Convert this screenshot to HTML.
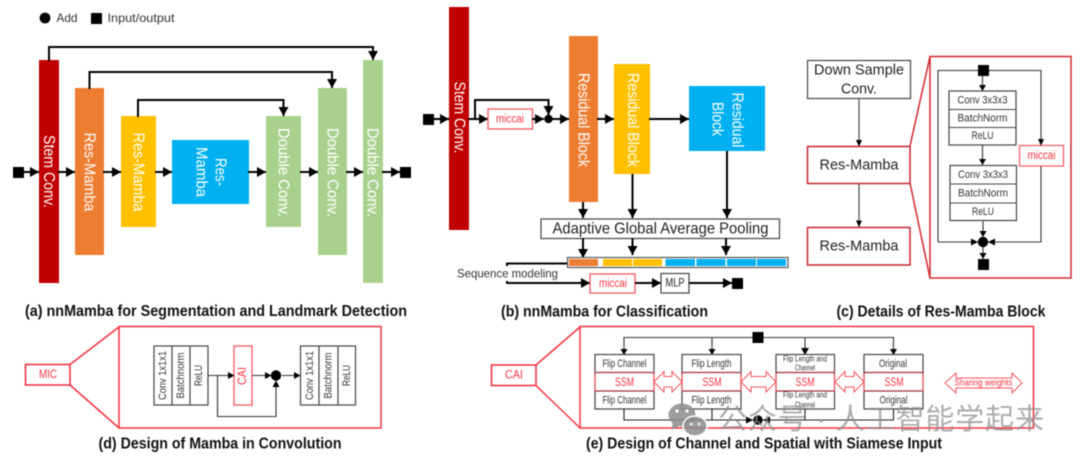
<!DOCTYPE html>
<html><head><meta charset="utf-8"><style>
html,body{margin:0;padding:0;background:#fff}
svg{display:block;filter:blur(0.45px)}
text{font-family:"Liberation Sans","Noto Sans CJK SC",sans-serif;text-anchor:middle;dominant-baseline:central}
.cap{font-weight:bold;font-size:15.5px;fill:#111}
.w{fill:#fff;font-size:16px}
.k{stroke:#000;stroke-width:2;fill:none}
.a{stroke:#000;stroke-width:2;fill:none;marker-end:url(#ah)}
.g{stroke:#333;stroke-width:1.1;fill:none}
.b{stroke:#333;stroke-width:1.1;fill:none;marker-end:url(#as)}
.box{fill:#fff;stroke:#444;stroke-width:1.2}
.red{fill:none;stroke:#f5333f;stroke-width:1.5}
.dred{fill:#fff;stroke:#c8242c;stroke-width:1.5}
.t{fill:#333;font-size:11px}
.r{fill:#f5333f;font-size:11.5px}
.da{fill:#fff;stroke:#f4555c;stroke-width:1}
</style></head><body>
<svg width="1080" height="464" viewBox="0 0 1080 464" xmlns="http://www.w3.org/2000/svg">
<defs>
<marker id="ah" markerUnits="userSpaceOnUse" markerWidth="10" markerHeight="11" refX="9" refY="5.5" orient="auto"><path d="M0 .5L9 5.5L0 10.5z" fill="#000"/></marker>
<marker id="as" markerUnits="userSpaceOnUse" markerWidth="7" markerHeight="7" refX="6" refY="3.5" orient="auto"><path d="M0 0L6 3.500L0 7z" fill="#000"/></marker>
</defs>
<rect width="1080" height="464" fill="#fff"/>

<!-- legend -->
<circle cx="45" cy="18" r="5.4" fill="#000"/>
<text x="67" y="18" font-size="12" fill="#333" textLength="21" lengthAdjust="spacingAndGlyphs">Add</text>
<rect x="91" y="13" width="11" height="11" fill="#000"/>
<text x="141" y="18" font-size="12" fill="#333" textLength="67" lengthAdjust="spacingAndGlyphs">Input/output</text>

<!-- panel a -->
<rect x="39" y="60" width="20" height="223" fill="#c00000"/>
<rect x="75" y="88" width="29" height="167" fill="#ed7d31"/>
<rect x="121" y="116" width="35" height="111" fill="#ffc000"/>
<rect x="172" y="140" width="77" height="64" fill="#00b0f0"/>
<rect x="266" y="116" width="35" height="111" fill="#a9d18e"/>
<rect x="318" y="88" width="29" height="167" fill="#a9d18e"/>
<rect x="363" y="60" width="20" height="223" fill="#a9d18e"/>
<text class="w" transform="translate(48.500 171.500) rotate(90)" textLength="73" lengthAdjust="spacingAndGlyphs">Stem Conv.</text>
<text class="w" transform="translate(89 172) rotate(90)" textLength="79" lengthAdjust="spacingAndGlyphs">Res-Mamba</text>
<text class="w" transform="translate(138 172) rotate(90)" textLength="79" lengthAdjust="spacingAndGlyphs">Res-Mamba</text>
<text class="w" transform="translate(220 172) rotate(90)" textLength="28" lengthAdjust="spacingAndGlyphs">Res-</text>
<text class="w" transform="translate(201 172) rotate(90)" textLength="50" lengthAdjust="spacingAndGlyphs">Mamba</text>
<text class="w" transform="translate(283 172.500) rotate(90)" textLength="89" lengthAdjust="spacingAndGlyphs">Double Conv.</text>
<text class="w" transform="translate(332 172.500) rotate(90)" textLength="89" lengthAdjust="spacingAndGlyphs">Double Conv.</text>
<text class="w" transform="translate(372 172.500) rotate(90)" textLength="89" lengthAdjust="spacingAndGlyphs">Double Conv.</text>
<rect x="13" y="167" width="11" height="11" fill="#000"/>
<rect x="400" y="167" width="11" height="11" fill="#000"/>
<path class="a" d="M24 172H39"/><path class="a" d="M58 172H75"/><path class="a" d="M103 172H121"/><path class="a" d="M155 172H172"/>
<path class="a" d="M248 172H266"/><path class="a" d="M300 172H318"/><path class="a" d="M346 172H363"/><path class="a" d="M382 172H400"/>
<path class="a" d="M49 61V47H373V60"/>
<path class="a" d="M89.500 89V72H332V88"/>
<path class="a" d="M138 117V100H283.500V116"/>
<text class="cap" x="216" y="311.500" textLength="382" lengthAdjust="spacingAndGlyphs">(a) nnMamba for Segmentation and Landmark Detection</text>

<!-- panel b -->
<rect x="449" y="7" width="20" height="223" fill="#c00000"/>
<rect x="569" y="36" width="29" height="166" fill="#ed7d31"/>
<rect x="614" y="64" width="36" height="110" fill="#ffc000"/>
<rect x="689" y="86" width="76" height="65" fill="#00b0f0"/>
<text class="w" transform="translate(459 117.500) rotate(90)" textLength="72" lengthAdjust="spacingAndGlyphs">Stem Conv.</text>
<text class="w" transform="translate(583 120) rotate(90)" textLength="94" lengthAdjust="spacingAndGlyphs">Residual Block</text>
<text class="w" transform="translate(632.500 120) rotate(90)" textLength="94" lengthAdjust="spacingAndGlyphs">Residual Block</text>
<text class="w" transform="translate(737 120) rotate(90)" textLength="55" lengthAdjust="spacingAndGlyphs">Residual</text>
<text class="w" transform="translate(717 119) rotate(90)" textLength="34" lengthAdjust="spacingAndGlyphs">Block</text>
<rect x="423" y="114" width="11" height="11" fill="#000"/>
<path class="a" d="M434 119H449"/>
<path class="a" d="M468 119H488"/>
<path class="k" d="M475 119V100H548.500V106"/>
<path class="a" d="M548.500 100V115"/>
<rect x="488" y="109" width="44.500" height="20" fill="#fff" stroke="#f4555c" stroke-width="1.300"/>
<text class="r" x="510" y="119.500" textLength="28" lengthAdjust="spacingAndGlyphs">miccai</text>
<path class="a" d="M532 119H544"/>
<circle cx="548.500" cy="119" r="4.200" fill="#000"/>
<path class="a" d="M552 119H569"/>
<path class="a" d="M597 119H614"/>
<path class="a" d="M649 119H689"/>
<path class="a" d="M583 202V218"/><path class="a" d="M632.500 174V218"/><path class="a" d="M727 151V218"/>
<rect x="541" y="219" width="238.500" height="19.500" class="box"/>
<text x="660.500" y="229" font-size="16" fill="#222" textLength="216" lengthAdjust="spacingAndGlyphs">Adaptive Global Average Pooling</text>
<path class="a" d="M583 238V258"/><path class="a" d="M632.500 238V255"/><path class="a" d="M726 238V255"/>
<rect x="567.500" y="257.500" width="220.500" height="10" fill="#fff" stroke="#555" stroke-width="1.200"/>
<rect x="569" y="259" width="29" height="7" fill="#ed7d31"/>
<rect x="603" y="259" width="29" height="7" fill="#ffc000"/><rect x="633" y="259" width="29" height="7" fill="#ffc000"/>
<rect x="665.500" y="259" width="29.500" height="7" fill="#00b0f0"/><rect x="696.500" y="259" width="29" height="7" fill="#00b0f0"/><rect x="727" y="259" width="29" height="7" fill="#00b0f0"/><rect x="757" y="259" width="29" height="7" fill="#00b0f0"/>
<path class="k" d="M507 266V263.500H567"/>
<text x="507.500" y="273.500" font-size="12" fill="#333" textLength="101" lengthAdjust="spacingAndGlyphs">Sequence modeling</text>
<path class="a" d="M507 281V283H590"/>
<rect x="590" y="274" width="45" height="19" fill="#fff" stroke="#f4555c" stroke-width="1.300"/>
<text class="r" x="613" y="284" textLength="28" lengthAdjust="spacingAndGlyphs">miccai</text>
<path class="a" d="M635 283H661"/>
<rect x="661" y="273.500" width="28" height="19.500" class="box"/>
<text x="675" y="283.500" font-size="11.500" fill="#222" textLength="19" lengthAdjust="spacingAndGlyphs">MLP</text>
<path class="a" d="M689 283H732"/>
<rect x="732" y="278" width="11" height="11" fill="#000"/>
<text class="cap" x="604.500" y="312" textLength="207" lengthAdjust="spacingAndGlyphs">(b) nnMamba for Classification</text>

<!-- panel c -->
<rect x="807.500" y="60.500" width="103" height="38" class="box"/>
<text x="859" y="70" font-size="15" fill="#222" textLength="90" lengthAdjust="spacingAndGlyphs">Down Sample</text>
<text x="859" y="89" font-size="15" fill="#222" textLength="36" lengthAdjust="spacingAndGlyphs">Conv.</text>
<path d="M859 98V146M859 183V227" stroke="#555" stroke-width="1.300" fill="none"/>
<path d="M856 140L859 146.500L862 140z M856 220.500L859 227L862 220.500z" fill="#000"/>
<rect x="807.500" y="146.500" width="102.500" height="37" class="dred"/>
<text x="859" y="165" font-size="15" fill="#222" textLength="79" lengthAdjust="spacingAndGlyphs">Res-Mamba</text>
<rect x="807.500" y="227.500" width="102.500" height="37.500" class="dred"/>
<text x="859" y="246" font-size="15" fill="#222" textLength="79" lengthAdjust="spacingAndGlyphs">Res-Mamba</text>
<path d="M910 146L930 56.500H1071V278H930L910 183" fill="none" stroke="#d0282f" stroke-width="1.500"/>
<path d="M930 56.500V278" stroke="#d0282f" stroke-width="1.500"/>
<path class="g" d="M938 242V70.500H1041V145"/>
<path class="g" d="M1041 166V242H938"/>
<path d="M1038 139L1041 146L1044 139z" fill="#000"/>
<path d="M971 238.500L978 242L971 245.500zM995 238.500L988 242L995 245.500z" fill="#000"/>
<rect x="978" y="65" width="11" height="11" fill="#000"/>
<rect x="978" y="259" width="11" height="11" fill="#000"/>
<circle cx="983" cy="242" r="5.200" fill="#000"/>
<path class="b" d="M982.500 75V91"/><path class="b" d="M982.500 145V165"/><path class="b" d="M983 220V237"/><path class="b" d="M983 247V259"/>
<rect x="949" y="91" width="67" height="54" class="box"/><path d="M949 109.500H1016M949 127.500H1016" stroke="#444" stroke-width="1"/>
<rect x="950" y="165.500" width="66.500" height="55" class="box"/><path d="M950 184H1016.500M950 203H1016.500" stroke="#444" stroke-width="1"/>
<text class="t" x="982.500" y="100.500" textLength="50" lengthAdjust="spacingAndGlyphs">Conv 3x3x3</text>
<text class="t" x="982.500" y="118.500" textLength="50" lengthAdjust="spacingAndGlyphs">BatchNorm</text>
<text class="t" x="982.500" y="136" textLength="22" lengthAdjust="spacingAndGlyphs">ReLU</text>
<text class="t" x="983" y="175" textLength="50" lengthAdjust="spacingAndGlyphs">Conv 3x3x3</text>
<text class="t" x="983" y="193.500" textLength="50" lengthAdjust="spacingAndGlyphs">BatchNorm</text>
<text class="t" x="983" y="212" textLength="22" lengthAdjust="spacingAndGlyphs">ReLU</text>
<rect x="1019.500" y="145.500" width="44" height="20.500" fill="#fff" stroke="#f4555c" stroke-width="1.200"/>
<text class="r" x="1041.500" y="156" textLength="28" lengthAdjust="spacingAndGlyphs">miccai</text>
<text class="cap" x="941" y="312" textLength="209" lengthAdjust="spacingAndGlyphs">(c) Details of Res-Mamba Block</text>

<!-- panel d -->
<rect x="25.500" y="364.500" width="44.500" height="20.500" fill="none" stroke="#ee2c36" stroke-width="1.500"/>
<text class="r" x="48" y="375" textLength="18" lengthAdjust="spacingAndGlyphs">MIC</text>
<path d="M70 364.500L119 327M70 385L119 428" stroke="#f5333f" stroke-width="1.500"/>
<rect x="119" y="326.500" width="262" height="101.500" class="red"/>
<rect x="154" y="346" width="54" height="59" class="box"/><path d="M172 346V405M190 346V405" stroke="#444" stroke-width="1.200"/>
<rect x="300.500" y="346" width="55" height="59" class="box"/><path d="M319 346V405M338 346V405" stroke="#444" stroke-width="1.200"/>
<text class="t" transform="translate(163 375.500) rotate(-90)" textLength="49" lengthAdjust="spacingAndGlyphs">Conv 1x1x1</text>
<text class="t" transform="translate(181 375.500) rotate(-90)" textLength="46" lengthAdjust="spacingAndGlyphs">Batchnorm</text>
<text class="t" transform="translate(199 375.500) rotate(-90)" textLength="21" lengthAdjust="spacingAndGlyphs">ReLU</text>
<text class="t" transform="translate(310 375.500) rotate(-90)" textLength="49" lengthAdjust="spacingAndGlyphs">Conv 1x1x1</text>
<text class="t" transform="translate(328.500 375.500) rotate(-90)" textLength="46" lengthAdjust="spacingAndGlyphs">Batchnorm</text>
<text class="t" transform="translate(347 375.500) rotate(-90)" textLength="21" lengthAdjust="spacingAndGlyphs">ReLU</text>
<rect x="234" y="346" width="18" height="59" fill="#fff" stroke="#f4555c" stroke-width="1.300"/>
<text class="r" transform="translate(243 376) rotate(-90)" textLength="18" lengthAdjust="spacingAndGlyphs">CAI</text>
<path d="M208 375.500H228M252 375.500H265M282 375.500H294M217.500 375.500V416.500H276V386" stroke="#333" stroke-width="1.100" fill="none"/>
<path d="M228 372L234.500 375.500L228 379zM265 372L271.500 375.500L265 379zM294 372L300.500 375.500L294 379zM272.500 387L276 380.500L279.500 387z" fill="#000"/>
<circle cx="276" cy="375.500" r="5.200" fill="#000"/>
<text class="cap" x="220" y="444" textLength="243" lengthAdjust="spacingAndGlyphs">(d) Design of Mamba in Convolution</text>

<!-- panel e -->
<rect x="491.500" y="365" width="44.500" height="20.500" fill="none" stroke="#ee2c36" stroke-width="1.500"/>
<text class="r" x="514" y="375.500" textLength="18" lengthAdjust="spacingAndGlyphs">CAI</text>
<path d="M536 365L580 327M536 385.500L580 428" stroke="#f5333f" stroke-width="1.500"/>
<rect x="580" y="326.500" width="453.500" height="101.500" class="red"/>
<path d="M624 354V337.500H893.500V354M712 337.500V354M805 337.500V354" stroke="#333" stroke-width="1.100" fill="none"/>
<path d="M620.500 349L624 355L627.500 349zM708.500 349L712 355L715.500 349zM801 348L805 355L809 348zM890 349L893.500 355L897 349z" fill="#000"/>
<rect x="752.500" y="332" width="11" height="11" fill="#000"/>

<rect x="595" y="354.500" width="59" height="54.500" fill="#fff" stroke="#444" stroke-width="1.200"/>
<rect x="682" y="354.500" width="59" height="54.500" fill="#fff" stroke="#444" stroke-width="1.200"/>
<rect x="776" y="354.500" width="58.500" height="54.500" fill="#fff" stroke="#444" stroke-width="1.200"/>
<rect x="864" y="354.500" width="59" height="54.500" fill="#fff" stroke="#444" stroke-width="1.200"/>
<path d="M595 372.500H654M595 391H654M682 372.500H741M682 391H741M776 372.500H834.500M776 391H834.500M864 372.500H923M864 391H923" stroke="#a03038" stroke-width="1.200"/>
<path d="M595 373V391M654 373V391M682 373V391M741 373V391M776 373V391M834.500 373V391M864 373V391M923 373V391" stroke="#f4555c" stroke-width="1.200"/>
<text class="t" x="624.500" y="364" textLength="44" lengthAdjust="spacingAndGlyphs">Flip Channel</text>
<text class="t" x="624.500" y="400.500" textLength="44" lengthAdjust="spacingAndGlyphs">Flip Channel</text>
<text class="t" x="711.500" y="364" textLength="40" lengthAdjust="spacingAndGlyphs">Flip Length</text>
<text class="t" x="711.500" y="400.500" textLength="40" lengthAdjust="spacingAndGlyphs">Flip Length</text>
<text x="805" y="359" font-size="8" fill="#333" textLength="44" lengthAdjust="spacingAndGlyphs">Flip Length and</text>
<text x="805" y="368" font-size="8" fill="#333" textLength="20" lengthAdjust="spacingAndGlyphs">Channel</text>
<text x="805" y="395" font-size="8" fill="#333" textLength="44" lengthAdjust="spacingAndGlyphs">Flip Length and</text>
<text x="805" y="405" font-size="8" fill="#333" textLength="20" lengthAdjust="spacingAndGlyphs">Channel</text>
<text class="t" x="893" y="364" textLength="28" lengthAdjust="spacingAndGlyphs">Original</text>
<text class="t" x="893.500" y="400.500" textLength="28" lengthAdjust="spacingAndGlyphs">Original</text>
<text x="624.500" y="382" font-size="12" fill="#f5333f" textLength="19" lengthAdjust="spacingAndGlyphs">SSM</text>
<text x="712" y="382" font-size="12" fill="#f5333f" textLength="19" lengthAdjust="spacingAndGlyphs">SSM</text>
<text x="805" y="382" font-size="12" fill="#f5333f" textLength="19" lengthAdjust="spacingAndGlyphs">SSM</text>
<text x="894" y="382" font-size="12" fill="#f5333f" textLength="19" lengthAdjust="spacingAndGlyphs">SSM</text>
<path class="da" d="M654 382L664 371.500V376.500H672V371.500L682 382L672 392V387H664V392z"/>
<path class="da" d="M741 382L751 371.500V376.500H766V371.500L776 382L766 392V387H751V392z"/>
<path class="da" d="M835 382L845 371.500V376.500H854V371.500L864 382L854 392V387H845V392z"/>
<path class="da" d="M945 383L956 373V378H1012V373L1022 383L1012 393V388H956V393z"/>
<text x="983.500" y="383" font-size="9.500" fill="#f5333f" textLength="58" lengthAdjust="spacingAndGlyphs">Sharing weights</text>
<path d="M624 409V420H893.500V409M712 409V420M805 409V420" stroke="#222" stroke-width="1.100" fill="none"/>
<path d="M746 416.500L753 420L746 423.500zM770 416.500L763 420L770 423.500z" fill="#000"/>
<circle cx="758" cy="420" r="4.700" fill="#000"/>
<text class="cap" x="764" y="444" textLength="356" lengthAdjust="spacingAndGlyphs">(e) Design of Channel and Spatial with Siamese Input</text>

<!-- watermark -->
<g fill="#8c8c8c" fill-opacity=".85">
<ellipse cx="682" cy="415" rx="13.500" ry="11.500"/>
<path d="M673 423L671 430L679 426z"/>
<ellipse cx="695" cy="426" rx="12" ry="10" stroke="#fff" stroke-width="1.500"/>
</g>
<circle cx="677" cy="411" r="1.600" fill="#fff"/><circle cx="687" cy="411" r="1.600" fill="#fff"/><circle cx="691" cy="424" r="1.300" fill="#fff"/><circle cx="699" cy="424" r="1.300" fill="#fff"/>
<text x="881" y="420" font-size="29" fill="#8a8a8a" fill-opacity=".7" textLength="326" font-family="Noto Sans CJK SC">公众号 · 人工智能学起来</text>
</svg>
</body></html>
